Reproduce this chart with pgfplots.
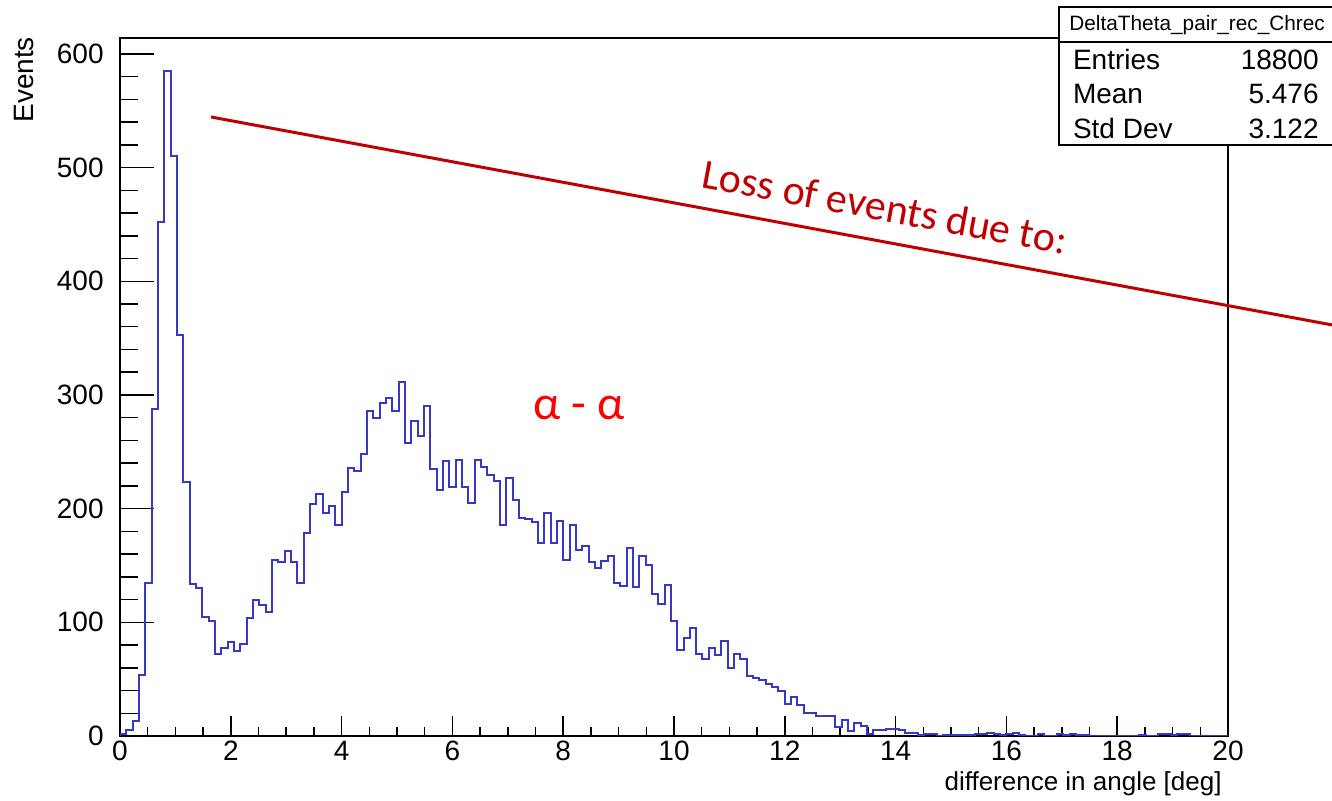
\documentclass[border=0pt]{standalone}
\usepackage{pgfplots}
\pgfplotsset{compat=1.18}
\usepackage{pgfplotstable}
\usepackage{fontspec}
\setmainfont{Liberation Sans}
\newfontfamily\annotfont{Carlito}

\definecolor{histblue}{RGB}{55,55,200}
\definecolor{lossred}{RGB}{192,0,0}
\definecolor{alphared}{RGB}{255,0,0}

% DeltaTheta_pair_rec_Chrec: bin index (175 bins over 0--20 deg) and bin content
\pgfplotstableread[row sep=\\]{
bin n \\
0 0 \\
0 2 \\ 1 5 \\ 2 13 \\ 3 54 \\ 4 135 \\ 5 288 \\ 6 452 \\ 7 585 \\ 8 510 \\ 9 353 \\
10 223 \\ 11 134 \\ 12 130 \\ 13 105 \\ 14 101 \\ 15 72 \\ 16 77 \\ 17 83 \\ 18 75 \\ 19 81 \\
20 104 \\ 21 120 \\ 22 115 \\ 23 109 \\ 24 155 \\ 25 153 \\ 26 163 \\ 27 153 \\ 28 135 \\ 29 179 \\
30 204 \\ 31 213 \\ 32 196 \\ 33 202 \\ 34 186 \\ 35 215 \\ 36 236 \\ 37 233 \\ 38 248 \\ 39 286 \\
40 280 \\ 41 293 \\ 42 297 \\ 43 286 \\ 44 311 \\ 45 258 \\ 46 277 \\ 47 264 \\ 48 290 \\ 49 235 \\
50 216 \\ 51 242 \\ 52 219 \\ 53 243 \\ 54 219 \\ 55 205 \\ 56 243 \\ 57 237 \\ 58 230 \\ 59 224 \\
60 186 \\ 61 227 \\ 62 208 \\ 63 192 \\ 64 191 \\ 65 188 \\ 66 170 \\ 67 196 \\ 68 170 \\ 69 189 \\
70 155 \\ 71 186 \\ 72 164 \\ 73 167 \\ 74 153 \\ 75 148 \\ 76 154 \\ 77 158 \\ 78 135 \\ 79 132 \\
80 165 \\ 81 131 \\ 82 158 \\ 83 150 \\ 84 125 \\ 85 116 \\ 86 133 \\ 87 101 \\ 88 76 \\ 89 86 \\
90 95 \\ 91 72 \\ 92 68 \\ 93 77 \\ 94 71 \\ 95 84 \\ 96 60 \\ 97 72 \\ 98 68 \\ 99 53 \\
100 51 \\ 101 49 \\ 102 46 \\ 103 43 \\ 104 40 \\ 105 28 \\ 106 34 \\ 107 27 \\ 108 20 \\ 109 20 \\
110 18 \\ 111 18 \\ 112 18 \\ 113 8 \\ 114 14 \\ 115 4 \\ 116 11 \\ 117 9 \\ 118 2 \\ 119 5 \\
120 5 \\ 121 6 \\ 122 6 \\ 123 5 \\ 124 3 \\ 125 3 \\ 126 1 \\ 127 2 \\ 128 2 \\ 129 0 \\
130 1 \\ 131 1 \\ 132 1 \\ 133 1 \\ 134 1 \\ 135 2 \\ 136 2 \\ 137 3 \\ 138 2 \\ 139 1 \\
140 2 \\ 141 3 \\ 142 1 \\ 143 0 \\ 144 0 \\ 145 2 \\ 146 0 \\ 147 0 \\ 148 2 \\ 149 1 \\
150 2 \\ 151 1 \\ 152 1 \\ 153 0 \\ 154 0 \\ 155 0 \\ 156 0 \\ 157 0 \\ 158 0 \\ 159 0 \\
160 0 \\ 161 1 \\ 162 0 \\ 163 0 \\ 164 2 \\ 165 2 \\ 166 1 \\ 167 2 \\ 168 2 \\ 169 0 \\
170 0 \\ 171 0 \\ 172 0 \\ 173 0 \\ 174 0 \\ 175 0 \\
}\histdata

\begin{document}
\begin{tikzpicture}
\useasboundingbox (0,0) rectangle (666pt,400.5pt);
\clip (0,0) rectangle (666pt,400.5pt);

\begin{axis}[
  at={(60pt,32.5pt)}, anchor=south west,
  scale only axis, width=554pt, height=349pt,
  xmin=0, xmax=20, ymin=0, ymax=614,
  xtick={0,2,...,20}, ytick={0,100,...,600},
  minor x tick num=3, minor y tick num=4,
  tick pos=left, tick align=inside,
  axis line style={line width=0.75pt, black},
  xtick style={line width=0.75pt, black, /pgfplots/major tick length=10pt, /pgfplots/minor tick length=4.5pt},
  ytick style={line width=0.75pt, black, /pgfplots/major tick length=17pt, /pgfplots/minor tick length=8.75pt},
  /pgf/number format/assume math mode=true,
  tick label style={font=\fontsize{14}{16}\selectfont, inner sep=0pt},
  yticklabel style={xshift=-8pt},
  xticklabel style={yshift=-2.5pt},
  xlabel={difference in angle [deg]},
  ylabel={Events},
  label style={font=\fontsize{13}{15}\selectfont, inner sep=0pt},
  xlabel style={at={(axis description cs:0.9946,-0.0788)}, anchor=base east},
  ylabel style={at={(axis description cs:-0.0781,1.0019)}, anchor=base east, rotate=0,
                font=\fontsize{14}{16}\selectfont},
]
\addplot[const plot, histblue, line width=1pt, mark=none]
  table[x expr=\thisrow{bin}*20/175, y=n] {\histdata};
\end{axis}

% annotation line and labels
\draw[lossred, line width=1.5pt] (105.5pt,342pt) -- (670pt,237.3pt);
\node[lossred, anchor=base west, inner sep=0pt, rotate=-10.5,
      font=\annotfont\fontsize{21}{24}\selectfont] at (350pt,307pt) {Loss of events due to:};
\node[alphared, anchor=base west, inner sep=0pt,
      font=\annotfont\fontsize{24}{28}\selectfont] at (266.5pt,190.5pt) {α - α};

% statistics box
\draw[draw=black, fill=white, line width=0.75pt] (529.5pt,328pt) rectangle (690pt,397pt);
\draw[draw=black, line width=0.75pt] (529.5pt,379.5pt) -- (690pt,379.5pt);
\node[anchor=base west, inner sep=0pt, font=\fontsize{10.4}{12}\selectfont]
  at (534.5pt,385pt) {DeltaTheta\_pair\_rec\_Chrec};
\begin{scope}[every node/.style={inner sep=0pt, font=\fontsize{14}{16}\selectfont}]
\node[anchor=base west] at (536.3pt,365.8pt) {Entries};
\node[anchor=base east] at (659.5pt,365.8pt) {18800};
\node[anchor=base west] at (536.3pt,348.5pt) {Mean};
\node[anchor=base east] at (659.5pt,348.5pt) {5.476};
\node[anchor=base west] at (536.3pt,331.2pt) {Std Dev};
\node[anchor=base east] at (659.5pt,331.2pt) {3.122};
\end{scope}
\end{tikzpicture}
\end{document}
